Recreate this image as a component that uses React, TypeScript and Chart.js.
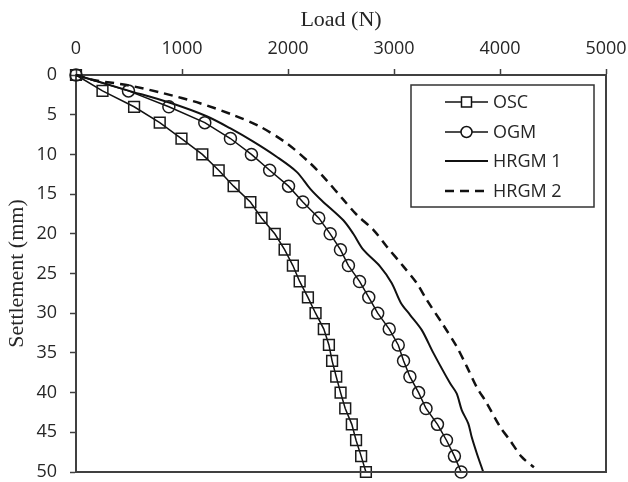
import React, { useEffect, useRef } from "react";
import { Chart, registerables } from "chart.js";

Chart.register(...registerables);

// ---- Data ----
const seriesNames = ["OSC", "OGM", "HRGM 1", "HRGM 2"];

const oscSettlement = [0, 2, 4, 6, 8, 10, 12, 14, 16, 18, 20, 22, 24, 26, 28, 30, 32, 34, 36, 38, 40, 42, 44, 46, 48, 50];
const oscLoad = [0, 250, 548, 790, 995, 1192, 1346, 1487, 1645, 1750, 1875, 1968, 2046, 2110, 2188, 2260, 2338, 2386, 2416, 2455, 2496, 2540, 2602, 2642, 2690, 2735];

const ogmSettlement = [0, 2, 4, 6, 8, 10, 12, 14, 16, 18, 20, 22, 24, 26, 28, 30, 32, 34, 36, 38, 40, 42, 44, 46, 48, 50];
const ogmLoad = [0, 495, 876, 1215, 1457, 1655, 1827, 2005, 2140, 2290, 2398, 2495, 2570, 2675, 2762, 2846, 2955, 3040, 3090, 3150, 3232, 3302, 3410, 3495, 3570, 3633];

const hrgm1Settlement = [0, 1.9, 3.5, 5.2, 6.7, 8.4, 10.3, 12.2, 14.3, 15.8, 18.3, 20, 22, 24.1, 26.2, 28.7, 30.2, 32.1, 35, 38.8, 40.1, 42.2, 43.9, 45.6, 47.6, 50];
const hrgm1Load = [0, 478, 887, 1233, 1453, 1673, 1893, 2082, 2208, 2318, 2522, 2616, 2710, 2868, 2978, 3065, 3151, 3261, 3371, 3528, 3591, 3639, 3701, 3733, 3780, 3842];

const hrgm2Settlement = [0, 0.63, 1.26, 2.3, 3.56, 5.04, 6.5, 8.6, 11.1, 13.2, 15.7, 17.6, 19.5, 21.6, 24.1, 26.2, 28.3, 31.5, 34.2, 36.7, 39.3, 41.3, 44.3, 46, 48.1, 49.4];
const hrgm2Load = [0, 163, 478, 824, 1170, 1484, 1736, 1988, 2208, 2360, 2522, 2648, 2805, 2931, 3088, 3214, 3308, 3465, 3591, 3686, 3780, 3874, 4000, 4094, 4205, 4320];

const xMin = 0;
const xMax = 5000;
const xStep = 1000;
const yMin = 0;
const yMax = 50;
const yStep = 5;

const LINE = "#111111";
const AXIS = "#404040";
const TEXT = "#262626";
const SANS = "'Open Sans', 'DejaVu Sans', sans-serif";
const SERIF = "'Liberation Serif', 'Times New Roman', serif";

function toPoints(xs: number[], ys: number[]) {
  return xs.map((x, i) => ({ x, y: ys[i] }));
}

const framePlugin = {
  id: "frameAndLegend",
  afterDraw(chart: any) {
    const { ctx, chartArea: a } = chart;
    ctx.save();
    // right and bottom frame
    ctx.strokeStyle = AXIS;
    ctx.lineWidth = 2;
    ctx.setLineDash([]);
    ctx.beginPath();
    ctx.moveTo(a.right, a.top);
    ctx.lineTo(a.right, a.bottom);
    ctx.lineTo(a.left, a.bottom);
    ctx.stroke();

    // legend box
    const bx = a.right - 195;
    const by = a.top + 10;
    const bw = 183;
    const bh = 122;
    ctx.lineWidth = 1.5;
    ctx.strokeStyle = "#333333";
    ctx.fillStyle = "#ffffff";
    ctx.fillRect(bx, by, bw, bh);
    ctx.strokeRect(bx, by, bw, bh);

    const rows = [by + 17, by + 47, by + 76, by + 106];
    const lx0 = bx + 34;
    const lx1 = bx + 77;
    const mx = (lx0 + lx1) / 2;
    ctx.font = `18px ${SANS}`;
    ctx.textBaseline = "middle";
    ctx.textAlign = "left";
    seriesNames.forEach((name, i) => {
      const y = rows[i];
      ctx.strokeStyle = LINE;
      ctx.lineWidth = i >= 2 ? (i === 3 ? 2.5 : 2) : 1.5;
      ctx.setLineDash(i === 3 ? [9, 6] : []);
      ctx.beginPath();
      ctx.moveTo(lx0, y);
      ctx.lineTo(lx1, y);
      ctx.stroke();
      ctx.setLineDash([]);
      ctx.lineWidth = 1.5;
      if (i === 0) {
        ctx.fillStyle = "#ffffff";
        ctx.fillRect(mx - 5, y - 5, 10, 10);
        ctx.strokeRect(mx - 5, y - 5, 10, 10);
      } else if (i === 1) {
        ctx.fillStyle = "#ffffff";
        ctx.beginPath();
        ctx.arc(mx, y, 5.5, 0, Math.PI * 2);
        ctx.fill();
        ctx.stroke();
      }
      ctx.fillStyle = TEXT;
      ctx.fillText(name, lx1 + 5, y + 1);
    });
    ctx.restore();
  },
};

function zeroPadding(scale: any) {
  scale.paddingTop = 0;
  scale.paddingBottom = 0;
  scale.paddingLeft = 0;
  scale.paddingRight = 0;
}

export default function App() {
  const canvasRef = useRef<HTMLCanvasElement | null>(null);

  useEffect(() => {
    const canvas = canvasRef.current;
    if (!canvas) return;
    const chart = new Chart(canvas, {
      type: "scatter",
      data: {
        datasets: [
          {
            label: seriesNames[0],
            data: toPoints(oscLoad, oscSettlement),
            showLine: true,
            borderColor: LINE,
            borderWidth: 1.5,
            pointStyle: "rect",
            pointRadius: 7.6,
            pointBorderWidth: 1.5,
            pointBorderColor: "#1a1a1a",
            pointBackgroundColor: "rgba(0,0,0,0)",
            tension: 0,
            clip: false,
          } as any,
          {
            label: seriesNames[1],
            data: toPoints(ogmLoad, ogmSettlement),
            showLine: true,
            borderColor: LINE,
            borderWidth: 1.5,
            pointStyle: "circle",
            pointRadius: 6,
            pointBorderWidth: 1.5,
            pointBorderColor: "#1a1a1a",
            pointBackgroundColor: "rgba(0,0,0,0)",
            tension: 0,
            clip: false,
          } as any,
          {
            label: seriesNames[2],
            data: toPoints(hrgm1Load, hrgm1Settlement),
            showLine: true,
            borderColor: LINE,
            borderWidth: 2,
            pointRadius: 0,
            tension: 0.3,
            clip: false,
          } as any,
          {
            label: seriesNames[3],
            data: toPoints(hrgm2Load, hrgm2Settlement),
            showLine: true,
            borderColor: LINE,
            borderWidth: 2.5,
            borderDash: [9, 6],
            pointRadius: 0,
            tension: 0.3,
            clip: false,
          } as any,
        ],
      },
      options: {
        responsive: false,
        animation: false,
        devicePixelRatio: 1,
        layout: { padding: { left: 0, top: 0, right: 22, bottom: 10 } },
        plugins: {
          legend: { display: false },
          tooltip: { enabled: false },
        },
        scales: {
          x: {
            type: "linear",
            position: "top",
            min: xMin,
            max: xMax,
            afterFit: (scale: any) => {
              scale.height = 75;
              zeroPadding(scale);
            },
            ticks: {
              stepSize: xStep,
              color: TEXT,
              padding: 10,
              font: { family: SANS, size: 18, lineHeight: 1.1 },
              maxRotation: 0,
              callback: (v: any) => String(v),
            },
            grid: {
              drawOnChartArea: false,
              drawTicks: true,
              tickLength: 6,
              tickColor: AXIS,
              tickWidth: 1.5,
            },
            border: { color: AXIS, width: 2 },
            title: {
              display: true,
              text: "Load (N)",
              color: TEXT,
              font: { family: SERIF, size: 22, lineHeight: 1.2 },
              padding: { top: 7, bottom: 0 },
            },
          },
          y: {
            type: "linear",
            reverse: true,
            min: yMin,
            max: yMax,
            afterFit: (scale: any) => {
              scale.width = 76;
              zeroPadding(scale);
            },
            ticks: {
              stepSize: yStep,
              color: TEXT,
              padding: 13,
              font: { family: SANS, size: 18, lineHeight: 1.1 },
              callback: (v: any) => String(v),
            },
            grid: {
              drawOnChartArea: false,
              drawTicks: true,
              tickLength: 6,
              tickColor: AXIS,
              tickWidth: 1.5,
            },
            border: { color: AXIS, width: 2 },
            title: {
              display: true,
              text: "Settlement (mm)",
              color: TEXT,
              font: { family: SERIF, size: 22, lineHeight: 1.2 },
              padding: { top: 4, bottom: 0 },
            },
          },
        },
      },
      plugins: [framePlugin],
    } as any);
    return () => chart.destroy();
  }, []);

  return (
    <div style={{ position: "absolute", left: 0, top: 0, width: 628, height: 482, background: "#ffffff" }}>
      <canvas ref={canvasRef} width={628} height={482} style={{ display: "block", width: 628, height: 482 }} />
    </div>
  );
}
